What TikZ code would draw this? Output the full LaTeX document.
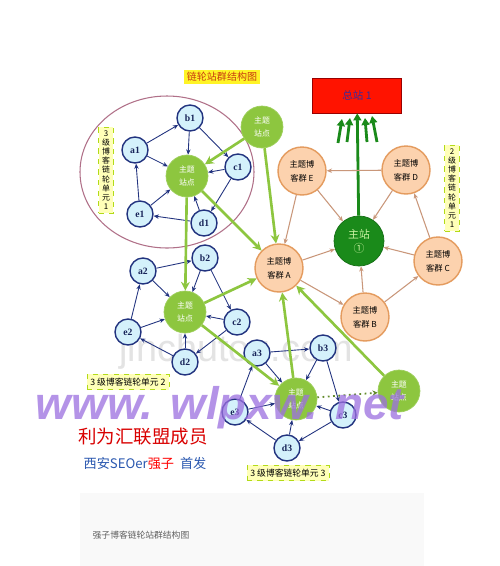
\documentclass[tikz,border=0pt]{standalone}
\usepackage{fontspec}
\setmainfont{Liberation Serif}
\newfontfamily\cjk{Noto Sans CJK SC}
\newfontfamily\wmfont{Liberation Sans}
\usepackage{xcolor}
\usetikzlibrary{arrows.meta, positioning, shapes.geometric}

\definecolor{nodeblue}{HTML}{D4F1FB}
\definecolor{navy}{HTML}{22337F}
\definecolor{lgreen}{HTML}{8DC63F}
\definecolor{peach}{HTML}{FCD2AE}
\definecolor{peachline}{HTML}{E49B5E}
\definecolor{peachedgecol}{HTML}{C9977A}
\definecolor{dgreen}{HTML}{1A8A1A}
\definecolor{lightg}{HTML}{C8F0A0}
\definecolor{titlered}{HTML}{C83A10}
\definecolor{paleyellow}{HTML}{FFFFB8}
\definecolor{boxtext}{HTML}{3A2A9A}
\definecolor{ellcol}{HTML}{B07088}
\definecolor{wmviolet}{HTML}{9C70E0}
\definecolor{seoblue}{HTML}{2A58B0}

\begin{document}
\begin{tikzpicture}[x=0.02cm, y=-0.02cm,
    bluenode/.style={circle, draw=navy, line width=0.8pt, fill=nodeblue, minimum size=0.52cm, inner sep=0pt, text=navy!70!black, font=\fontsize{5.5}{6}\selectfont\bfseries},
    limenode/.style={circle, fill=lgreen, draw=lgreen!85!white, minimum size=0.84cm, inner sep=0pt, align=center, text=white, font=\cjk\fontsize{4.5}{7}\selectfont},
    peachnode/.style={circle, draw=peachline, line width=0.8pt, fill=peach, minimum size=0.96cm, inner sep=0pt, align=center, font=\cjk\fontsize{4.7}{8}\selectfont},
    mainnode/.style={circle, fill=dgreen, draw=dgreen!80!black, minimum size=1cm, inner sep=0pt, align=center, text=lightg, font=\cjk\fontsize{6.2}{8}\selectfont},
    blueedge/.style={-{Stealth[length=3pt,width=2.5pt]}, navy, line width=0.5pt},
    limeedge/.style={-{Stealth[length=5pt,width=5pt]}, lgreen, line width=1.5pt},
    limedot/.style={-{Stealth[length=3pt,width=3pt]}, lgreen!70!black, line width=1pt, dotted},
    peachedge/.style={-{Stealth[length=3pt,width=2.5pt]}, peachedgecol, line width=0.6pt},
    upedge/.style={-{Triangle[length=4pt,width=4.5pt]}, dgreen, line width=1.6pt},
    unitlabel/.style={fill=paleyellow, draw=yellow!70!green, dashed, inner sep=2pt, font=\cjk\fontsize{5}{5}\selectfont}
]
    % Canvas
    \useasboundingbox (0,0) rectangle (500,566);
    \fill[white] (0,0) rectangle (500,566);
    \fill[gray!5] (80,493) rectangle (424,566);

    % Watermarks
    \node[text=gray!22, font=\wmfont\fontsize{21.5}{22}\selectfont] (wmark) at (236,352) {jinchutou.com};

    % Title and total station
    \node[fill=yellow!85, text=titlered, inner sep=1.5pt, font=\cjk\fontsize{5.7}{6}\selectfont] (title) at (222,77) {链轮站群结构图};
    \node[fill=red!85!orange, draw=red!60!black, minimum width=1.78cm, minimum height=0.7cm, text=boxtext, font=\cjk\fontsize{6}{7}\selectfont] (zong) at (357,95.5) {总站 1};

    % Unit 1 ellipse
    \draw[ellcol, line width=0.6pt] (167,172) ellipse [x radius=87, y radius=76];

    % Unit labels
    \node[unitlabel, align=center, font=\cjk\fontsize{4.5}{5.2}\selectfont] (lab1) at (106,170) {3\\级\\博\\客\\链\\轮\\单\\元\\1};
    \node[unitlabel, align=center, font=\cjk\fontsize{4.5}{5.2}\selectfont] (lab0) at (452,188) {2\\级\\博\\客\\链\\轮\\单\\元\\1};
    \node[unitlabel] (lab2) at (128,382) {3 级博客链轮单元 2};
    \node[unitlabel] (lab3) at (288,473) {3 级博客链轮单元 3};

    % Lime station nodes
    \node[limenode] (tl) at (262,127) {主题\\站点};
    \node[limenode] (m1) at (187,176) {主题\\站点};
    \node[limenode] (m2) at (185,312) {主题\\站点};
    \node[limenode] (m3) at (296,399) {主题\\站点};
    \node[limenode] (rl) at (399,391) {主题\\站点};

    % Unit 1
    \node[bluenode] (b1) at (190,118) {b1};
    \node[bluenode] (a1) at (135,150) {a1};
    \node[bluenode] (c1) at (238,167) {c1};
    \node[bluenode] (e1) at (140,214) {e1};
    \node[bluenode] (d1) at (204,223) {d1};

    % Unit 2
    \node[bluenode] (a2) at (143,271) {a2};
    \node[bluenode] (b2) at (205,258) {b2};
    \node[bluenode] (c2) at (237,322) {c2};
    \node[bluenode] (e2) at (128,332) {e2};
    \node[bluenode] (d2) at (185,362) {d2};

    % Unit 3
    \node[bluenode] (a3) at (257,353) {a3};
    \node[bluenode] (b3) at (323,348) {b3};
    \node[bluenode] (c3) at (343,415) {c3};
    \node[bluenode] (e3) at (235,412) {e3};
    \node[bluenode] (d3) at (287,448) {d3};

    % Theme groups and main station
    \node[peachnode] (gE) at (302,171) {主题博\\客群 E};
    \node[peachnode] (gD) at (406,170) {主题博\\客群 D};
    \node[mainnode] (zhu) at (359,241) {主站\\①};
    \node[peachnode] (gA) at (279,268) {主题博\\客群 A};
    \node[peachnode] (gC) at (438,261) {主题博\\客群 C};
    \node[peachnode] (gB) at (365,317) {主题博\\客群 B};

    % Fan of arrows to the total station
    \coordinate (f1) at (338,143);
    \coordinate (f2) at (347,142);
    \coordinate (f3) at (367,142);
    \coordinate (f4) at (377,142);
    \coordinate (t1) at (342,119);
    \coordinate (t2) at (350,118);
    \coordinate (t3) at (365,118);
    \coordinate (t4) at (372,116);
    \draw[upedge] (zhu) -- (zong);
    \draw[upedge] (f1) -- (t1);
    \draw[upedge] (f2) -- (t2);
    \draw[upedge] (f3) -- (t3);
    \draw[upedge] (f4) -- (t4);

    % Unit 1 links
    \draw[blueedge] (a1) -- (b1);
    \draw[blueedge] (b1) -- (m1);
    \draw[blueedge] (b1) -- (c1);
    \draw[blueedge] (a1) -- (m1);
    \draw[blueedge] (c1) -- (m1);
    \draw[blueedge] (c1) -- (d1);
    \draw[blueedge] (d1) -- (m1);
    \draw[blueedge] (d1) -- (e1);
    \draw[blueedge] (e1) -- (m1);
    \draw[blueedge] (e1) -- (a1);

    % Unit 2 links
    \draw[blueedge] (a2) -- (b2);
    \draw[blueedge] (b2) -- (m2);
    \draw[blueedge] (b2) -- (c2);
    \draw[blueedge] (a2) -- (m2);
    \draw[blueedge] (c2) -- (m2);
    \draw[blueedge] (c2) -- (d2);
    \draw[blueedge] (d2) -- (m2);
    \draw[blueedge] (d2) -- (e2);
    \draw[blueedge] (e2) -- (m2);
    \draw[blueedge] (e2) -- (a2);

    % Unit 3 links
    \draw[blueedge] (a3) -- (b3);
    \draw[blueedge] (b3) -- (m3);
    \draw[blueedge] (b3) -- (c3);
    \draw[blueedge] (a3) -- (m3);
    \draw[blueedge] (c3) -- (m3);
    \draw[blueedge] (c3) -- (d3);
    \draw[blueedge] (d3) -- (m3);
    \draw[blueedge] (d3) -- (e3);
    \draw[blueedge] (e3) -- (m3);
    \draw[blueedge] (e3) -- (a3);

    % Lime links
    \draw[limeedge] (tl) -- (m1);
    \draw[limeedge] (tl) -- (gA);
    \draw[limeedge] (m1) -- (m2);
    \draw[limeedge] (m1) -- (gA);
    \draw[limeedge] (m2) -- (gA);
    \draw[limeedge] (m2) -- (m3);
    \draw[limeedge] (m3) -- (gA);
    \draw[limeedge] (rl) -- (gA);
    \draw[limedot] (m3) -- (rl);

    % Theme group links
    \draw[peachedge] (gD) -- (gE);
    \draw[peachedge] (gE) -- (zhu);
    \draw[peachedge] (gD) -- (zhu);
    \draw[peachedge] (gC) -- (gD);
    \draw[peachedge] (gE) -- (gA);
    \draw[peachedge] (gA) -- (zhu);
    \draw[peachedge] (gA) -- (gB);
    \draw[peachedge] (gB) -- (zhu);
    \draw[peachedge] (gB) -- (gC);
    \draw[peachedge] (gC) -- (zhu);

    % Site stamp
    \node[text=wmviolet, opacity=0.75, font=\wmfont\bfseries\itshape\fontsize{26}{28}\selectfont] (site) at (220,408) {www. wlpxw. net};
    \node[text=red!85!black, font=\cjk\fontsize{10.5}{11}\selectfont] (member) at (143,437) {利为汇联盟成员};
    \node[text=seoblue, font=\cjk\fontsize{7.5}{8}\selectfont] (author) at (145,464) {西安SEOer\textcolor{red}{强子}\ \ 首发};

    % Caption
    \node[text=gray!75!black, font=\cjk\fontsize{5}{6}\selectfont] (caption) at (141,535) {强子博客链轮站群结构图};
\end{tikzpicture}
\end{document}
